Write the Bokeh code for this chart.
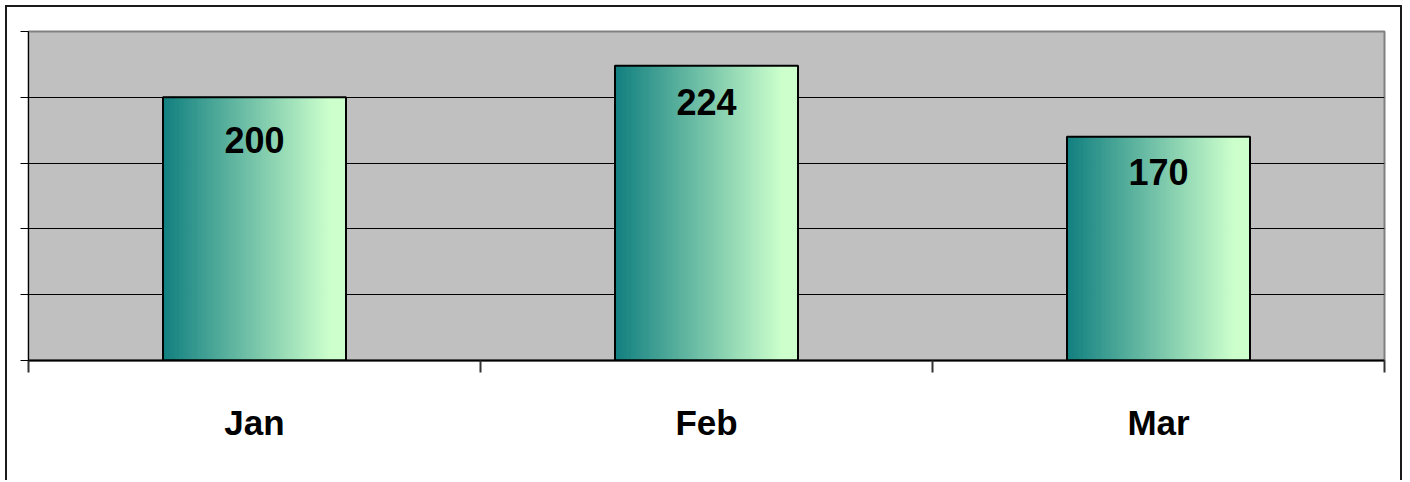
from bokeh.plotting import figure
from bokeh.models import Range1d, FixedTicker
from bokeh.core.properties import value
from bokeh.embed import file_html
from bokeh.resources import INLINE

# ---- data ----
categories = ["Jan", "Feb", "Mar"]
sales = [200, 224, 170]
y_ticks = [0, 50, 100, 150, 200, 250]

# ---- style ----
label_offsets = [43, 36, 35]   # px below bar top for the value labels
bar_width = 0.405
n_strips = 80
c_left = (0x12, 0x80, 0x80)
c_right = (0xCC, 0xFF, 0xCC)
FONT = "Liberation Sans"

p = figure(width=1397, height=475, output_backend="svg", toolbar_location=None,
           x_range=Range1d(0, len(categories)), y_range=Range1d(0, 250),
           min_border_left=21, min_border_right=20, min_border_top=24,
           min_border_bottom=122)
p.styles = {"border-left": "2px solid #1a1a1a", "border-top": "2px solid #1a1a1a",
            "border-right": "2px solid #1a1a1a", "margin-left": "5px", "margin-top": "5px"}

p.background_fill_color = "#C0C0C0"
p.border_fill_color = "white"
p.outline_line_color = "#808080"
p.outline_line_width = 2

# gradient bars built from thin strips
lefts, rights, tops, bottoms, colors = [], [], [], [], []
centers = [i + 0.5 for i in range(len(categories))]
for c, v in zip(centers, sales):
    x0 = c - bar_width / 2
    for k in range(n_strips):
        t = k / (n_strips - 1)
        t2 = min(1.0, t / 0.92)
        col = tuple(int(round(a + (b - a) * t2)) for a, b in zip(c_left, c_right))
        lefts.append(x0 + bar_width * k / n_strips)
        rights.append(x0 + bar_width * (k + 1) / n_strips)
        tops.append(v)
        bottoms.append(0)
        colors.append("#%02x%02x%02x" % col)
p.quad(left=lefts, right=rights, top=tops, bottom=bottoms, fill_color=colors,
       line_color=colors, line_width=1.2)
p.quad(left=[c - bar_width / 2 for c in centers], right=[c + bar_width / 2 for c in centers],
       top=sales, bottom=[0] * len(sales), fill_color=None, line_color="black", line_width=2)

p.text(x=centers, y=sales, text=[str(v) for v in sales], y_offset=label_offsets,
       text_align="center", text_baseline="middle", text_font=value(FONT),
       text_font_style="bold", text_font_size="36px", text_color="black")

# grid
p.xgrid.visible = False
p.ygrid.ticker = FixedTicker(ticks=y_ticks)
p.ygrid.grid_line_color = "black"
p.ygrid.grid_line_width = 1

# y axis: ticks only
p.yaxis.ticker = FixedTicker(ticks=y_ticks)
p.yaxis.major_label_overrides = {t: " " for t in y_ticks}
p.yaxis.major_label_text_font_size = "1px"
p.yaxis.major_label_standoff = 0
p.yaxis.major_tick_in = 0
p.yaxis.major_tick_out = 8
p.yaxis.minor_tick_line_color = None
p.yaxis.axis_line_color = "black"
p.yaxis.major_tick_line_color = "black"

# x axis: labels at centers, tick marks at boundaries
p.xaxis.ticker = FixedTicker(ticks=centers, minor_ticks=list(range(len(categories) + 1)))
p.xaxis.major_label_overrides = {c: cat for c, cat in zip(centers, categories)}
p.xaxis.major_tick_in = 0
p.xaxis.major_tick_out = 0
p.xaxis.minor_tick_in = 0
p.xaxis.minor_tick_out = 12
p.xaxis.minor_tick_line_color = "#333333"
p.xaxis.minor_tick_line_width = 2
p.xaxis.axis_line_color = "black"
p.xaxis.axis_line_width = 2
p.xaxis.major_label_text_font = FONT
p.xaxis.major_label_text_font_style = "bold"
p.xaxis.major_label_text_font_size = "35px"
p.xaxis.major_label_text_color = "black"
p.xaxis.major_label_standoff = 30

open("out.html", "w").write(file_html(p, INLINE))
